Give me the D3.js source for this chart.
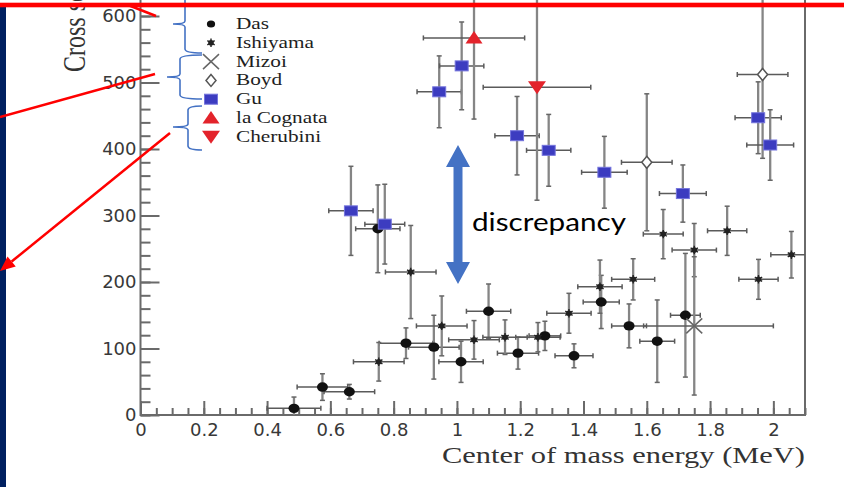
<!DOCTYPE html>
<html lang="en">

<head>
    <meta charset="UTF-8">
    <title>Cross section vs center of mass energy</title>
    <script src="https://cdn.jsdelivr.net/npm/d3@7"></script>
    <style>
        body { margin: 0; background: #fff; }
        svg { display: block; }
    </style>
</head>

<body>
    <svg></svg>
</body>
<script>
    // rows: [energy (MeV), cross section, energy error, cross section error, energy error high (optional)]
    const das = [
        [0.485, 10, 0.085, 17], [0.575, 42, 0.08, 20], [0.66, 35, 0.08, 11], [0.75, 280, 0.07, 66],
        [0.839, 108, 0.085, 23], [0.927, 102, 0.08, 48], [1.013, 80, 0.07, 31], [1.10, 156, 0.07, 41],
        [1.193, 93, 0.065, 24], [1.278, 119, 0.05, 22], [1.37, 89, 0.06, 18], [1.456, 170, 0.057, 40],
        [1.544, 134, 0.055, 33], [1.633, 111, 0.055, 62], [1.722, 150, 0.047, 93]
    ];
    const ishiyama = [
        [0.753, 80, 0.08, 29], [0.854, 215, 0.08, 70], [0.952, 134, 0.08, 45], [1.054, 113, 0.08, 29],
        [1.152, 117, 0.07, 26], [1.256, 117, 0.07, 22], [1.354, 153, 0.07, 30], [1.452, 193, 0.07, 40],
        [1.557, 204, 0.068, 31], [1.652, 272, 0.063, 37], [1.75, 248, 0.07, 40], [1.854, 277, 0.062, 37],
        [1.953, 204, 0.062, 30], [2.057, 241, 0.065, 35]
    ];
    const mizoi = [[1.75, 134, 0.16, 104, 0.25]];
    const boyd = [[1.60, 380, 0.08, 103], [1.966, 512, 0.08, 126]];
    const gu = [
        [0.665, 307, 0.07, 67], [0.772, 287, 0.063, 60], [0.944, 486, 0.07, 54], [1.015, 525, 0.07, 66],
        [1.19, 420, 0.07, 59], [1.29, 398, 0.07, 54], [1.466, 365, 0.072, 54], [1.714, 333, 0.074, 43],
        [1.952, 447, 0.073, 54], [1.99, 406, 0.074, 53]
    ];
    const laCognata = [[1.054, 567, 0.16, 122]];
    const cherubini = [[1.253, 493, 0.17, 170]];

    const seriesNames = ['Das', 'Ishiyama', 'Mizoi', 'Boyd', 'Gu', 'la Cognata', 'Cherubini'];
    const seriesData = [das, ishiyama, mizoi, boyd, gu, laCognata, cherubini];

    const xTickLabels = ['0', '0.2', '0.4', '0.6', '0.8', '1', '1.2', '1.4', '1.6', '1.8', '2'];
    const yTickLabels = ['0', '100', '200', '300', '400', '500', '600'];

    const width = 844, height = 487;
    const blue = '#4472c4';

    const svg = d3.select('svg')
        .attr('width', width)
        .attr('height', height);

    svg.append('rect').attr('width', width).attr('height', height).attr('fill', '#fff');

    const x = d3.scaleLinear().domain([0, 2.1]).range([140.5, 805]);
    const y = d3.scaleLinear().domain([0, 600]).range([415, 16]);

    // marker shapes, one per series
    function drawMarker(g, name, k) {
        if (name === 'Das') {
            g.append('ellipse').attr('rx', 5.5 * k).attr('ry', 4.7 * k).attr('fill', '#111');
        } else if (name === 'Ishiyama') {
            g.append('circle').attr('r', 2.8 * k).attr('fill', '#222');
            g.append('path').attr('d', d3.symbol(d3.symbolAsterisk, 50 * k * k)())
                .attr('stroke', '#222').attr('stroke-width', 1.4).attr('fill', 'none');
        } else if (name === 'Mizoi') {
            g.append('path').attr('d', `M${-8 * k},${-7.5 * k}L${8 * k},${7.5 * k}M${-8 * k},${7.5 * k}L${8 * k},${-7.5 * k}`)
                .attr('stroke', '#666').attr('stroke-width', 1.5);
        } else if (name === 'Boyd') {
            g.append('path').attr('d', `M0,${-6 * k}L${5 * k},0L0,${6 * k}L${-5 * k},0Z`)
                .attr('fill', '#fff').attr('stroke', '#555').attr('stroke-width', 1.5);
        } else if (name === 'Gu') {
            g.append('rect').attr('x', -6.5 * k).attr('y', -5 * k).attr('width', 13 * k).attr('height', 10 * k)
                .attr('fill', '#3c3cc0').attr('stroke', '#7474dc').attr('stroke-width', 1);
        } else if (name === 'la Cognata') {
            g.append('path').attr('d', `M0,${-7 * k}L${8.5 * k},${5.5 * k}L${-8.5 * k},${5.5 * k}Z`).attr('fill', '#e3232b');
        } else {
            g.append('path').attr('d', `M0,${7 * k}L${9 * k},${-6 * k}L${-9 * k},${-6 * k}Z`).attr('fill', '#e3232b');
        }
    }

    // axes
    const xMinor = d3.axisBottom(x).tickValues(x.ticks(42)).tickSize(-7).tickFormat('');
    const xMajor = d3.axisBottom(x).tickValues(xTickLabels.map(Number)).tickSize(-14).tickPadding(8)
        .tickFormat((d, i) => xTickLabels[i]);
    const yMinor = d3.axisLeft(y).tickValues(d3.range(0, 601, 20)).tickSize(-10).tickFormat('');
    const yMajor = d3.axisLeft(y).tickValues(yTickLabels.map(Number)).tickSize(-19).tickPadding(4)
        .tickFormat((d, i) => yTickLabels[i]);

    [[xMinor, 'x'], [xMajor, 'x'], [yMinor, 'y'], [yMajor, 'y']].forEach(([ax, dir]) => {
        const g = svg.append('g')
            .attr('transform', dir === 'x' ? 'translate(0,415)' : 'translate(140.5,0)')
            .call(ax);
        g.select('.domain').remove();
        g.selectAll('.tick line').attr('stroke', '#6a6a6a').attr('stroke-width', 2);
        g.selectAll('.tick text')
            .attr('fill', '#383838')
            .style('font-family', '"DejaVu Sans", sans-serif')
            .style('font-size', '18px');
    });

    // frame
    svg.append('path')
        .attr('d', `M${x(0)},-10V${y(0)}H${x(2.1)}V-10`)
        .attr('fill', 'none').attr('stroke', '#6a6a6a').attr('stroke-width', 2);

    // data
    svg.append('clipPath').attr('id', 'plot')
        .append('rect').attr('x', x(0)).attr('y', -60).attr('width', x(2.1) - x(0)).attr('height', y(0) + 60);

    const plot = svg.append('g').attr('clip-path', 'url(#plot)');
    const bars = plot.append('g');
    const marks = plot.append('g');

    seriesData.forEach((rows, si) => {
        rows.forEach(r => {
            const [e, s, de, ds] = r;
            const deHi = r[4] ?? de;
            const cx = x(e), cy = y(s);
            const y0 = y(s - ds), y1 = y(s + ds), x0 = x(e - de), x1 = x(e + deHi);
            const b = bars.append('g');
            b.append('line').attr('x1', cx).attr('x2', cx).attr('y1', y0).attr('y2', y1)
                .attr('stroke', '#858585').attr('stroke-width', 2.3);
            [y0, y1].forEach(v => b.append('line').attr('x1', cx - 2.5).attr('x2', cx + 2.5).attr('y1', v).attr('y2', v)
                .attr('stroke', '#666').attr('stroke-width', 1.5));
            b.append('line').attr('x1', x0).attr('x2', x1).attr('y1', cy).attr('y2', cy)
                .attr('stroke', '#5a5a5a').attr('stroke-width', 1.5);
            [x0, x1].forEach(v => b.append('line').attr('x1', v).attr('x2', v).attr('y1', cy - 2.5).attr('y2', cy + 2.5)
                .attr('stroke', '#5a5a5a').attr('stroke-width', 1.5));
            drawMarker(marks.append('g').attr('transform', `translate(${cx},${cy})`), seriesNames[si], 1);
        });
    });

    // axis titles
    svg.append('text')
        .attr('x', 442).attr('y', 463)
        .attr('textLength', 363).attr('lengthAdjust', 'spacingAndGlyphs')
        .style('font-family', '"Liberation Serif", serif').style('font-size', '24px')
        .attr('fill', '#333')
        .text('Center of mass energy (MeV)');

    svg.append('text')
        .attr('transform', 'translate(85,72) scale(1.3,1) rotate(-90)')
        .style('font-family', '"Liberation Serif", serif').style('font-size', '24px')
        .attr('fill', '#333')
        .text('Cross section (mb)');

    // legend
    const legend = svg.append('g');
    seriesNames.forEach((name, i) => {
        const ly = 24 + i * 18.8;
        drawMarker(legend.append('g').attr('transform', `translate(211,${ly})`), name, name === 'Das' ? 0.75 : 1);
        legend.append('text')
            .attr('transform', `translate(236,${ly + 5}) scale(1.33,1)`)
            .style('font-family', '"Liberation Serif", serif').style('font-size', '16px')
            .attr('fill', '#1e1e1e')
            .text(name);
    });

    // blue braces grouping the legend
    const braces = [[-6, 53, 185, 173, 24], [55, 99, 180, 167, 77], [106, 150, 188, 173, 127]];
    braces.forEach(([top, bot, bx, tx, ty]) => {
        svg.append('path')
            .attr('d', `M202,${top}Q${bx},${top} ${bx},${top + 4}V${ty - 3}Q${bx},${ty} ${tx},${ty}` +
                `Q${bx},${ty} ${bx},${ty + 3}V${bot - 4}Q${bx},${bot} 202,${bot}`)
            .attr('fill', 'none').attr('stroke', blue).attr('stroke-width', 1.6);
    });

    // discrepancy double arrow
    const ax = 458, aTop = 145, aBot = 284, hw = 12, hl = 22, sw = 4.5;
    svg.append('path')
        .attr('d', `M${ax},${aTop}L${ax + hw},${aTop + hl}H${ax + sw}V${aBot - hl}H${ax + hw}L${ax},${aBot}` +
            `L${ax - hw},${aBot - hl}H${ax - sw}V${aTop + hl}H${ax - hw}Z`)
        .attr('fill', blue);

    svg.append('text')
        .attr('x', 472).attr('y', 231)
        .attr('textLength', 154).attr('lengthAdjust', 'spacingAndGlyphs')
        .style('font-family', 'Lato, sans-serif').style('font-size', '25px')
        .attr('fill', '#000')
        .text('discrepancy');

    // slide decorations
    svg.append('rect').attr('x', 0).attr('y', 7).attr('width', 6).attr('height', height - 7).attr('fill', '#002060');
    svg.append('rect').attr('x', 0).attr('y', 2.7).attr('width', width).attr('height', 4.6).attr('fill', '#ff0000');

    const red = svg.append('g').attr('stroke', '#ff0000').attr('stroke-width', 2.5);
    red.append('line').attr('x1', 128).attr('y1', 5).attr('x2', 156).attr('y2', 16);
    red.append('line').attr('x1', 0).attr('y1', 117).attr('x2', 155).attr('y2', 74);

    const from = [170, 133], tip = [0, 271];
    const len = Math.hypot(tip[0] - from[0], tip[1] - from[1]);
    const ux = (tip[0] - from[0]) / len, uy = (tip[1] - from[1]) / len;
    const bcx = tip[0] - 15 * ux, bcy = tip[1] - 15 * uy;
    red.append('line').attr('x1', from[0]).attr('y1', from[1]).attr('x2', bcx).attr('y2', bcy);
    svg.append('path')
        .attr('d', `M${tip[0]},${tip[1]}L${bcx - 6.5 * uy},${bcy + 6.5 * ux}L${bcx + 6.5 * uy},${bcy - 6.5 * ux}Z`)
        .attr('fill', '#ff0000');
</script>

</html>
